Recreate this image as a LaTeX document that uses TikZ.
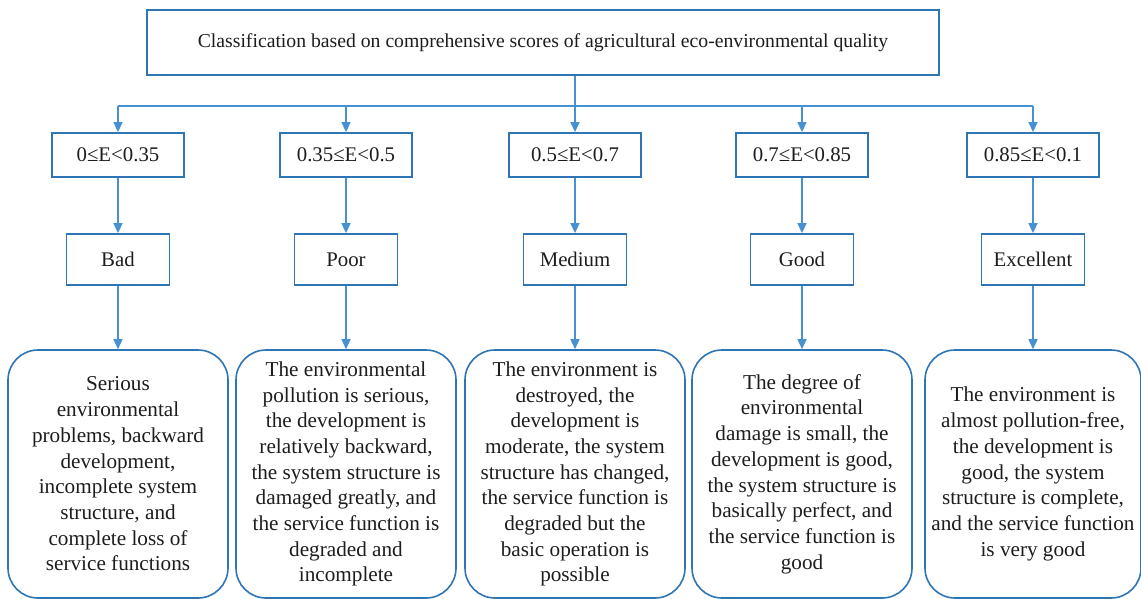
\documentclass[tikz,border=0pt]{standalone}
\usepackage{fontspec}
\setmainfont{Liberation Serif}
\usetikzlibrary{arrows.meta}
\definecolor{boxblue}{RGB}{46,117,182}
\definecolor{lineblue}{RGB}{70,145,210}
\definecolor{txtgray}{RGB}{30,28,28}
\tikzset{
	sqbox/.style={draw=boxblue,line width=0.9pt,text=txtgray,font=\fontsize{10.4}{12}\selectfont,inner sep=0pt},
	rangebox/.style={sqbox,minimum width=66pt,minimum height=22pt},
	gradebox/.style={sqbox,minimum width=51.5pt,minimum height=25.5pt},
	descbox/.style={draw=boxblue,line width=0.8pt,rounded corners=15pt,align=center,text=txtgray,font=\fontsize{10.6}{12.85}\selectfont,minimum width=110pt,minimum height=124pt,inner sep=0pt},
	link/.style={draw=lineblue,line width=0.75pt,-{Triangle[length=5pt,width=4.5pt]}}
}
\begin{document}
\begin{tikzpicture}[x=0.5pt,y=-0.5pt]
	\useasboundingbox (0,0) rectangle (1141,599);
	\node[sqbox,font=\fontsize{9.85}{12}\selectfont,minimum width=396pt,minimum height=32.5pt] (top) at (543,42.5) {Classification based on comprehensive scores of agricultural eco-environmental quality};
	
	\node[rangebox] (r1) at (118,155) {0≤E<0.35};
	\node[rangebox] (r2) at (346,155) {0.35≤E<0.5};
	\node[rangebox] (r3) at (575,155) {0.5≤E<0.7};
	\node[rangebox] (r4) at (802,155) {0.7≤E<0.85};
	\node[rangebox] (r5) at (1033,155) {0.85≤E<0.1};
	
	\node[gradebox] (g1) at (118,259.5) {Bad};
	\node[gradebox] (g2) at (346,259.5) {Poor};
	\node[gradebox] (g3) at (575,259.5) {Medium};
	\node[gradebox] (g4) at (802,259.5) {Good};
	\node[gradebox] (g5) at (1033,259.5) {Excellent};
	
	\node[descbox] (d1) at (118,474) {Serious\\environmental\\problems, backward\\development,\\incomplete system\\structure, and\\complete loss of\\service functions};
	\node[descbox] (d2) at (346,474) {The environmental\\pollution is serious,\\the development is\\relatively backward,\\the system structure is\\damaged greatly, and\\the service function is\\degraded and\\incomplete};
	\node[descbox] (d3) at (575,474) {The environment is\\destroyed, the\\development is\\moderate, the system\\structure has changed,\\the service function is\\degraded but the\\basic operation is\\possible};
	\node[descbox] (d4) at (802,474) {The degree of\\environmental\\damage is small, the\\development is good,\\the system structure is\\basically perfect, and\\the service function is\\good};
	\node[descbox,minimum width=108pt] (d5) at (1033,474) {The environment is\\almost pollution-free,\\the development is\\good, the system\\structure is complete,\\and the service function\\is very good};
	
	\coordinate (bus) at (575,106);
	\draw[lineblue,line width=0.75pt] (r1.north |- bus) -- (r5.north |- bus);
	\draw[link] (top.south -| r3.north) -- (r3.north);
	\draw[link] (r1.north |- bus) -- (r1.north); \draw[link] (r2.north |- bus) -- (r2.north);
	\draw[link] (r4.north |- bus) -- (r4.north); \draw[link] (r5.north |- bus) -- (r5.north);
	
	\draw[link] (r1.south) -- (g1.north); \draw[link] (r2.south) -- (g2.north); \draw[link] (r3.south) -- (g3.north);
	\draw[link] (r4.south) -- (g4.north); \draw[link] (r5.south) -- (g5.north);
	\draw[link] (g1.south) -- (d1.north); \draw[link] (g2.south) -- (d2.north); \draw[link] (g3.south) -- (d3.north);
	\draw[link] (g4.south) -- (d4.north); \draw[link] (g5.south) -- (d5.north);
\end{tikzpicture}
\end{document}
